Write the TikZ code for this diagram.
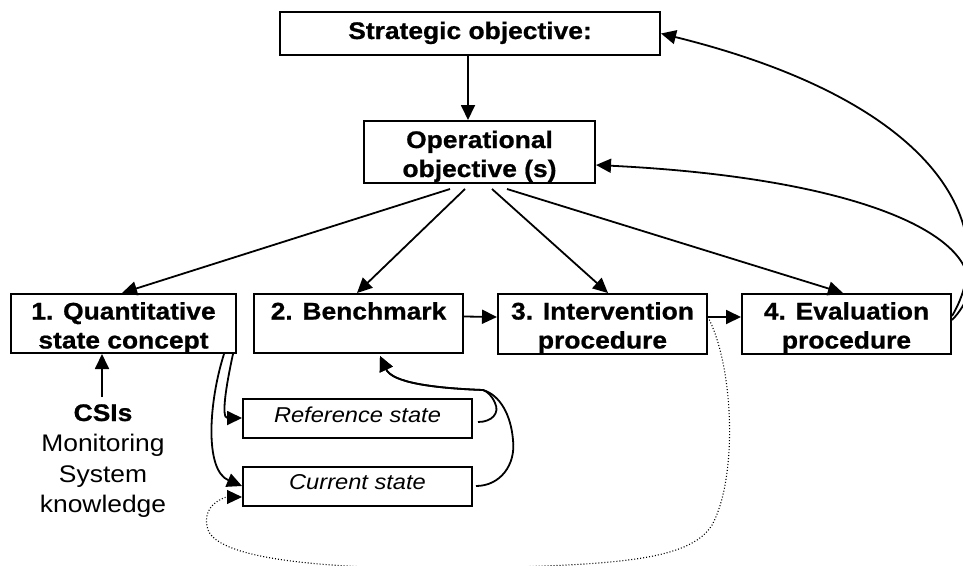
\documentclass[tikz,border=0pt]{standalone}
\usepackage{fontspec}
\setmainfont{Liberation Sans}[FakeStretch=1.1, BoldFeatures={FakeBold=0.8}]
\usetikzlibrary{arrows.meta}
\newcommand\mylines[1]{\begin{tabular}[t]{@{}c@{}}#1\end{tabular}}
\begin{document}
\begin{tikzpicture}[x=1pt,y=-1pt,
  box/.style={draw,line width=2pt,inner sep=0pt},
  lbl/.style={font=\fontsize{24}{29}\selectfont\bfseries, anchor=base, inner sep=0pt},
  ilbl/.style={font=\fontsize{21.5}{28}\selectfont\itshape, anchor=base, inner sep=0pt},
  rlbl/.style={font=\fontsize{24}{30.5}\selectfont, anchor=base, inner sep=0pt},
  arr/.style={line width=1.8pt, -{Triangle[length=15pt,width=14pt]}},
  dotarr/.style={line width=1.1pt, dash pattern=on 1pt off 2pt, -{Triangle[length=15pt,width=14pt]}},
]
\path[use as bounding box] (0,0) rectangle (963,565);
\clip (0,0) rectangle (963,565);

% boxes
\node[box, minimum width=380pt, minimum height=43pt] (so) at (470,33.5) {};
\node[box, minimum width=231pt, minimum height=62pt] (op) at (479.5,152) {};
\node[box, minimum width=225pt, minimum height=59pt] (b1) at (123.5,323.5) {};
\node[box, minimum width=209pt, minimum height=59pt] (b2) at (358.5,323.5) {};
\node[box, minimum width=209pt, minimum height=60pt] (b3) at (602.5,324) {};
\node[box, minimum width=209pt, minimum height=60pt] (b4) at (846.5,324) {};
\node[box, minimum width=229pt, minimum height=39pt] (rs) at (357.5,418.5) {};
\node[box, minimum width=229pt, minimum height=39pt] (cs) at (357.5,486.5) {};

% texts
\node[lbl] (sot) at (470,39) {Strategic objective:};
\node[lbl] (opt) at (479.5,148) {\mylines{Operational\\objective (s)}};
\node[lbl] (b1t) at (123.5,319.5) {\mylines{1. Quantitative\\state concept}};
\node[lbl] (b2t) at (358.5,319.5) {2. Benchmark};
\node[lbl] (b3t) at (602.5,319.5) {\mylines{3. Intervention\\procedure}};
\node[lbl] (b4t) at (846.5,319.5) {\mylines{4. Evaluation\\procedure}};
\node[ilbl] (rst) at (357.5,422) {Reference state};
\node[ilbl] (cst) at (357.5,489) {Current state};
\node[rlbl] (csi) at (103,421) {\mylines{\textbf{CSIs}\\Monitoring\\System\\knowledge}};
\coordinate (csitop) at (102,397);

% connectors
\draw[arr] ([xshift=-2pt]so.south) -- ([xshift=-11.5pt]op.north);
\draw[arr] ([shift={(-29.5pt,-5pt)}]op.south) -- ([xshift=-1.5pt]b1.north);
\draw[arr] ([shift={(-14.5pt,-5pt)}]op.south) -- ([xshift=-1.5pt]b2.north);
\draw[arr] ([shift={(12.5pt,-5pt)}]op.south) -- ([xshift=5.5pt]b3.north);
\draw[arr] ([shift={(27.5pt,-5pt)}]op.south) -- ([xshift=-3.5pt]b4.north);
\draw[arr] ([yshift=7pt]b2.east) -- ([yshift=7pt]b3.west);
\draw[arr] ([yshift=7pt]b3.east) -- ([yshift=7pt]b4.west);
\draw[arr] (csitop) -- ([xshift=-21.5pt]b1.south);

% from concept to states
\draw[arr] ([xshift=-4pt]b1.south east) .. controls +(-7,32) and +(-21,0) .. ([yshift=0.5pt]rs.west);
\draw[arr] ([xshift=-13pt]b1.south east) .. controls +(-15,47) and +(-38,-16) .. ([yshift=0.5pt]cs.west);

% states back to benchmark
\draw[arr] ([shift={(5pt,-3.5pt)}]rs.east) .. controls (492,422) and (500,413) .. (495,403)
   .. controls (492,396) and (488,392) .. (483,390)
   .. controls (430,388) and (392,382) .. ([shift={(21.5pt,-2pt)}]b2.south);
\draw[arr] ([shift={(3pt,0.5pt)}]cs.east) .. controls (500,486) and (516,465) .. (513,440)
   .. controls (511,415) and (500,395) .. (483,390)
   .. controls (430,388) and (392,382) .. ([shift={(21.5pt,-2pt)}]b2.south);

% dotted feedback
\draw[dotarr] ([yshift=7pt]b3.east) .. controls (735,370) and (737,480) .. (712,525)
   .. controls (690,560) and (620,565) .. (470,568)
   .. controls (330,570) and (220,560) .. (208,530)
   .. controls (200,505) and (225,497) .. ([yshift=-10.5pt]cs.west);

% evaluation feedback loops
\draw[arr] ([yshift=8pt]b4.east) .. controls (1000,235) and (950,105) .. (so.east);
\draw[arr] ([yshift=4pt]b4.east) .. controls (1015,255) and (900,180) .. ([yshift=-13pt]op.east);
\end{tikzpicture}
\end{document}
